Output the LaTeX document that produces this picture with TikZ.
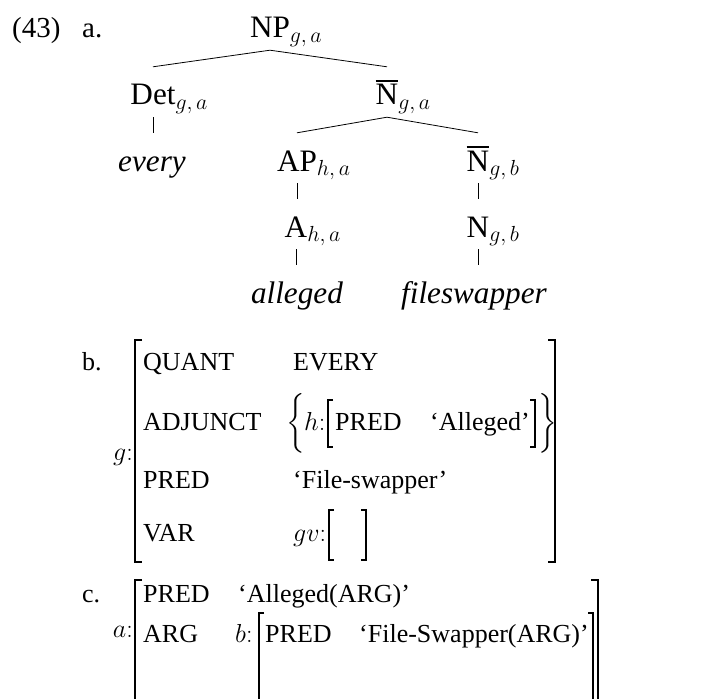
\documentclass[tikz,border=0pt]{standalone}
\usepackage{fix-cm}
\usepackage{amsmath}
\usepackage{fontspec}
\setmainfont{Liberation Serif}

\newcommand\TreeSize{\fontsize{31.2}{37}\selectfont}
\newcommand\AvmSize{\fontsize{26}{31}\selectfont}
\newcommand\NumSize{\fontsize{29}{35}\selectfont}
\newcommand\OpenBrace{\smash{$\left\{\vcenter to 61pt{}\right.$}}
\newcommand\CloseBrace{\smash{$\left.\vcenter to 61pt{}\right\}$}}
% N with a bar over it (N-bar category)
\newcommand\Nbar{\makebox[0pt][l]{\raisebox{23pt}{\rule{22.5pt}{1.8pt}}}N}

\tikzset{
  cat/.style={font=\TreeSize, inner sep=0pt, text height=38pt, text depth=12pt, anchor=base},
  branch/.style={line width=0.8pt},
  lbl/.style={font=\NumSize, inner sep=0pt, anchor=base west},
  attr/.style={font=\AvmSize, inner sep=0pt, anchor=base west},
  brk/.style={line width=1.1pt},
}

\begin{document}
\begin{tikzpicture}[x=1pt,y=-1pt]
\path[use as bounding box] (0,0) rectangle (711,698);

% example number
\node[lbl] (num) at (12,38) {(43)};
\node[lbl] (la) at (82,38) {a.};

% (a) the tree
\node[cat] (NP) at (270,38) {NP\rlap{$_{g,\,a}$}};
\node[cat] (Det) at (153,105) {Det\rlap{$_{g,\,a}$}};
\node[cat] (Nb1) at (387,105) {\Nbar\rlap{$_{g,\,a}$}};
\node[cat] (every) at (152,171) {\textit{every}};
\node[cat] (AP) at (297,171) {AP\rlap{$_{h,\,a}$}};
\node[cat] (Nb2) at (478,171) {\Nbar\rlap{$_{g,\,b}$}};
\node[cat] (A) at (296,237) {A\rlap{$_{h,\,a}$}};
\node[cat] (N) at (478,237) {N\rlap{$_{g,\,b}$}};
\node[cat] (alleged) at (297,303) {\textit{alleged}};
\node[cat] (fsw) at (474,303) {\textit{fileswapper}};

\draw[branch] (NP.south) -- (Det.north);
\draw[branch] (NP.south) -- (Nb1.north);
\draw[branch] (Det.south) -- (Det.south |- every.north);
\draw[branch] (Nb1.south) -- (AP.north);
\draw[branch] (Nb1.south) -- (Nb2.north);
\draw[branch] (AP.south) -- (AP.south |- A.north);
\draw[branch] (Nb2.south) -- (Nb2.south |- N.north);
\draw[branch] (A.south) -- (A.south |- alleged.north);
\draw[branch] (N.south) -- (N.south |- fsw.north);

% (b) f-structure g
\node[attr] (lb) at (82,370) {b.};
\node[attr, anchor=base east] (g) at (133,460) {$g{:}$};
\draw[brk] (142,340) -- (135,340) -- (135,562) -- (142,562);
\draw[brk] (548,340) -- (555,340) -- (555,562) -- (548,562);
\node[attr] (quant) at (143,370) {QUANT};
\node[attr] (quantv) at (293,370) {EVERY};
\node[attr] (adj) at (143,430) {ADJUNCT};
\node[attr] (lbrace) at (286,430) {\OpenBrace};
\node[attr] (h) at (304,430) {$h{:}$};
\draw[brk] (333,400) -- (328,400) -- (328,447) -- (333,447);
\node[attr] (hpred) at (335,430) {PRED};
\node[attr] (hpredv) at (430,430) {`Alleged'};
\draw[brk] (530,400) -- (535,400) -- (535,447) -- (530,447);
\node[attr] (rbrace) at (537,430) {\CloseBrace};
\node[attr] (pred) at (143,488) {PRED};
\node[attr] (predv) at (293,488) {`File-swapper'};
\node[attr] (var) at (143,541) {VAR};
\node[attr] (gv) at (293,541) {$gv{:}$};
\draw[brk] (334,510) -- (329,510) -- (329,560) -- (334,560);
\draw[brk] (361,510) -- (366,510) -- (366,560) -- (361,560);

% (c) f-structure a (its lower edge runs past the page)
\node[attr] (lc) at (82,602) {c.};
\node[attr, anchor=base east] (a) at (133,637) {$a{:}$};
\draw[brk] (142,580) -- (135,580) -- (135,702);
\draw[brk] (591,580) -- (598,580) -- (598,702);
\node[attr] (cpred) at (143,602) {PRED};
\node[attr] (cpredv) at (238,602) {`Alleged(ARG)'};
\node[attr] (arg) at (143,642) {ARG};
\node[attr] (b) at (235,642) {$b{:}$};
\draw[brk] (264,613) -- (259,613) -- (259,702);
\node[attr] (bpred) at (265,642) {PRED};
\node[attr] (bpredv) at (359,642) {`File-Swapper(ARG)'};
\draw[brk] (588,613) -- (593,613) -- (593,702);
\end{tikzpicture}
\end{document}
